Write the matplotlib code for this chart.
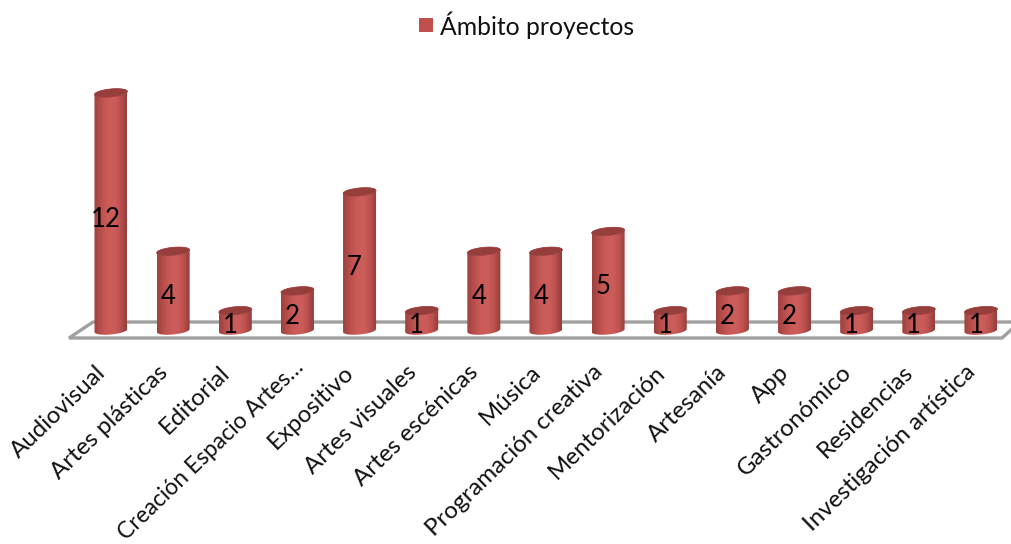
import numpy as np
import matplotlib
matplotlib.use("Agg")
import matplotlib.pyplot as plt
from matplotlib.colors import LinearSegmentedColormap
from matplotlib.patches import Polygon, Rectangle

categories = ["Audiovisual", "Artes plásticas", "Editorial", "Creación Espacio Artes…",
              "Expositivo", "Artes visuales", "Artes escénicas", "Música",
              "Programación creativa", "Mentorización", "Artesanía", "App",
              "Gastronómico", "Residencias", "Investigación artística"]
values = [12, 4, 1, 2, 7, 1, 4, 4, 5, 1, 2, 2, 1, 1, 1]
series_name = "Ámbito proyectos"

W, H = 1012, 544
ZERO = 330.5
plt.rcParams["font.family"] = ["Lato", "DejaVu Sans"]
fig = plt.figure(figsize=(W / 100, H / 100), dpi=100)
ax = fig.add_axes([0, 0, 1, 1])

PX, PY = 62.14, 19.8
ax.axis("off")

def X(p): return (p - 111) / PX
def Y(p): return (ZERO - p) / PY

floor_c = "#a0a0a0"
ax.plot([X(1012), X(93), X(69), X(1002), X(1012)], [Y(322), Y(322), Y(338), Y(338), Y(329)],
        color=floor_c, lw=2.4, solid_joinstyle="miter", zorder=1)

cmap = LinearSegmentedColormap.from_list("cyl", ["#9e413e", "#b84f4c", "#cb5b59", "#cd5d5b", "#bd524f", "#933c3a"])
grad = np.linspace(0, 1, 64).reshape(1, -1)
hw = 16.5 / PX
ry = 4.0 / PY
tilt = 1.5 / PY
t = np.linspace(0, 2 * np.pi, 80)

for i, v in enumerate(values):
    cap = np.c_[i + hw * np.cos(t), v + ry * np.sin(t) + tilt * np.cos(t)]
    tb = np.linspace(np.pi, 2 * np.pi, 40)
    bot = np.c_[i + hw * np.cos(tb), ry * np.sin(tb) + tilt * np.cos(tb)]
    tt = np.linspace(0, np.pi, 40)
    top = np.c_[i + hw * np.cos(tt), v + ry * np.sin(tt) + tilt * np.cos(tt)]
    body = Polygon(np.r_[bot, top], closed=True, fc="none", ec="none", zorder=2)
    ax.add_patch(body)
    im = ax.imshow(grad, cmap=cmap, extent=[i - hw, i + hw, -1, v + 1], aspect="auto",
                   interpolation="bilinear", zorder=2)
    im.set_clip_path(body)
    ax.add_patch(Polygon(cap, closed=True, fc="#963e3c", ec="#a04442", lw=0.5, zorder=3))
    ax.annotate(str(v), (i, v / 2), xytext=(-5 / 100 * 72, -(5 + 0.2 * v) / 100 * 72), textcoords="offset points",
                ha="center", va="center", fontsize=18.5, color="black", zorder=4)
    dx = -4 if i == 3 else -16
    dy = -26 if i == 3 else -31
    size = 16.4 if i == 3 else 17.3
    ax.annotate(categories[i], (i, 0), xytext=(dx / 100 * 72, dy / 100 * 72), textcoords="offset points",
                ha="right", va="top", rotation=44, rotation_mode="anchor",
                fontsize=size, color="#111111", zorder=4)

ax.set_xlim(-111 / PX, (W - 111) / PX)
ax.set_ylim((ZERO - H) / PY, ZERO / PY)

ax.add_patch(Rectangle((X(419), Y(32)), 14 / PX, 14 / PY, fc="#c0504d", ec="none", zorder=4))
ax.text(X(440), Y(25), series_name, ha="left", va="center", fontsize=17.8, color="#111111")

fig.savefig("out.png", dpi=100)
